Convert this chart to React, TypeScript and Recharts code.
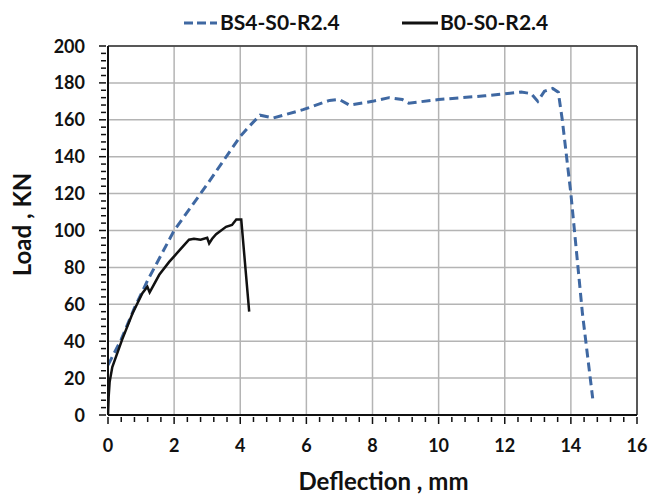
import { LineChart, Line, XAxis, YAxis, CartesianGrid, ReferenceLine } from "recharts";

// BS4-S0-R2.4 (dashed blue)
const BS4_DEFLECTION = [0, 0.4, 0.8, 1.2, 2.0, 2.96, 4.0, 4.3, 4.6, 5.0, 5.9, 6.7, 7.0, 7.3, 8.0, 8.5, 8.9, 9.1, 10.0, 11.4, 12.5, 12.8, 13.0, 13.2, 13.45, 13.62, 13.74, 14.0, 14.35, 14.66];
const BS4_LOAD = [27, 41, 58, 73, 100, 124, 151, 157, 162.5, 161, 165.5, 170.5, 171, 168, 170, 172, 171, 169, 171, 173, 175, 174.2, 170, 175.5, 177, 175, 160, 120, 55, 9];

// B0-S0-R2.4 (solid black)
const B0_DEFLECTION = [0, 0.02, 0.05, 0.13, 0.43, 0.74, 1.04, 1.19, 1.26, 1.55, 1.85, 2.0, 2.2, 2.45, 2.6, 2.8, 3.0, 3.06, 3.15, 3.27, 3.57, 3.75, 3.88, 4.03, 4.27];
const B0_LOAD = [0, 10, 18, 26, 41, 55, 66, 69.5, 66.5, 76, 83, 86, 90, 95, 95.5, 95, 96, 93, 95.5, 98, 102, 103, 106, 106, 56];

const X_MAJOR = [0, 2, 4, 6, 8, 10, 12, 14, 16];
const Y_MAJOR = [0, 20, 40, 60, 80, 100, 120, 140, 160, 180, 200];
const X_MINOR = [0, 0.4, 0.8, 1.2, 1.6, 2, 2.4, 2.8, 3.2, 3.6, 4, 4.4, 4.8, 5.2, 5.6, 6, 6.4, 6.8, 7.2, 7.6, 8, 8.4, 8.8, 9.2, 9.6, 10, 10.4, 10.8, 11.2, 11.6, 12, 12.4, 12.8, 13.2, 13.6, 14, 14.4, 14.8, 15.2, 15.6, 16];
const Y_MINOR = [0, 4, 8, 12, 16, 20, 24, 28, 32, 36, 40, 44, 48, 52, 56, 60, 64, 68, 72, 76, 80, 84, 88, 92, 96, 100, 104, 108, 112, 116, 120, 124, 128, 132, 136, 140, 144, 148, 152, 156, 160, 164, 168, 172, 176, 180, 184, 188, 192, 196, 200];

const bs4 = BS4_DEFLECTION.map((x, i) => ({ x, load: BS4_LOAD[i] }));
const b0 = B0_DEFLECTION.map((x, i) => ({ x, load: B0_LOAD[i] }));

const BLUE = "#3f68a2";
const INK = "#111";
const GRID = "#b4b4b4";
const FONT = "Lato, 'Open Sans', sans-serif";

function XTick(props: any) {
  const { x, y, payload } = props;
  const major = X_MAJOR.includes(payload.value);
  return (
    <g>
      <line x1={x} x2={x} y1={y} y2={y + (major ? 7 : 5)} stroke={INK} strokeWidth={1.5} />
      {major && (
        <text x={x} y={y + 35} textAnchor="middle" fontFamily={FONT} fontWeight={700} fontSize={18} fill={INK}>
          {payload.value}
        </text>
      )}
    </g>
  );
}

function YTick(props: any) {
  const { x, y, payload } = props;
  const major = Y_MAJOR.includes(payload.value);
  return (
    <g>
      <line x1={x - (major ? 7 : 5)} x2={x} y1={y} y2={y} stroke={INK} strokeWidth={1.5} />
      {major && (
        <text x={x - 21} y={y + 6.5} textAnchor="end" fontFamily={FONT} fontWeight={700} fontSize={18} fill={INK}>
          {payload.value}
        </text>
      )}
    </g>
  );
}

function XTitle(props: any) {
  const vb = props.viewBox;
  return (
    <text x={vb.x + vb.width / 2 + 11} y={vb.y + 75} textAnchor="middle" fontFamily={FONT} fontWeight={700} fontSize={24} fill={INK}>
      Deflection , mm
    </text>
  );
}

function YTitle(props: any) {
  const vb = props.viewBox;
  const cx = 31;
  const cy = vb.y + vb.height / 2 - 6;
  return (
    <text x={cx} y={cy} transform={`rotate(-90, ${cx}, ${cy})`} textAnchor="middle" fontFamily={FONT} fontWeight={700} fontSize={24} fill={INK}>
      Load , KN
    </text>
  );
}

function LegendBar() {
  return (
    <svg width={653} height={40} style={{ position: "absolute", left: 0, top: 0 }}>
      <line x1={184} x2={217} y1={23} y2={23} stroke={BLUE} strokeWidth={3} strokeDasharray="9 4" />
      <text x={220} y={30} fontFamily={FONT} fontWeight={700} fontSize={21} fill={INK}>
        BS4-S0-R2.4
      </text>
      <line x1={402} x2={438} y1={23} y2={23} stroke={INK} strokeWidth={3} />
      <text x={440} y={30} fontFamily={FONT} fontWeight={700} fontSize={21} fill={INK}>
        B0-S0-R2.4
      </text>
    </svg>
  );
}

export default function App() {
  return (
    <div style={{ position: "absolute", left: 0, top: 0, width: 653, height: 498, background: "#fff" }}>
      <LineChart width={653} height={498} margin={{ top: 46, right: 16, bottom: 13, left: 0 }}>
        <CartesianGrid
          stroke={GRID}
          strokeWidth={1.5}
          horizontalValues={Y_MAJOR}
          verticalValues={X_MAJOR}
        />
        <XAxis
          type="number"
          dataKey="x"
          domain={[0, 16]}
          ticks={X_MINOR}
          interval={0}
          height={70}
          tickSize={0}
          tickLine={false}
          axisLine={{ stroke: INK, strokeWidth: 2 }}
          tick={<XTick />}
          label={<XTitle />}
          allowDataOverflow
        />
        <YAxis
          type="number"
          domain={[0, 200]}
          ticks={Y_MINOR}
          interval={0}
          width={108}
          tickSize={0}
          tickLine={false}
          axisLine={{ stroke: INK, strokeWidth: 2 }}
          tick={<YTick />}
          label={<YTitle />}
        />
        <ReferenceLine y={200} stroke="#333" strokeWidth={1.5} />
        <ReferenceLine x={16} stroke="#333" strokeWidth={1.5} />
        <Line
          data={bs4}
          dataKey="load"
          type="linear"
          stroke={BLUE}
          strokeWidth={3}
          strokeDasharray="9 5"
          dot={false}
          isAnimationActive={false}
        />
        <Line
          data={b0}
          dataKey="load"
          type="linear"
          stroke={INK}
          strokeWidth={2.5}
          dot={false}
          isAnimationActive={false}
        />
      </LineChart>
      <LegendBar />
    </div>
  );
}
